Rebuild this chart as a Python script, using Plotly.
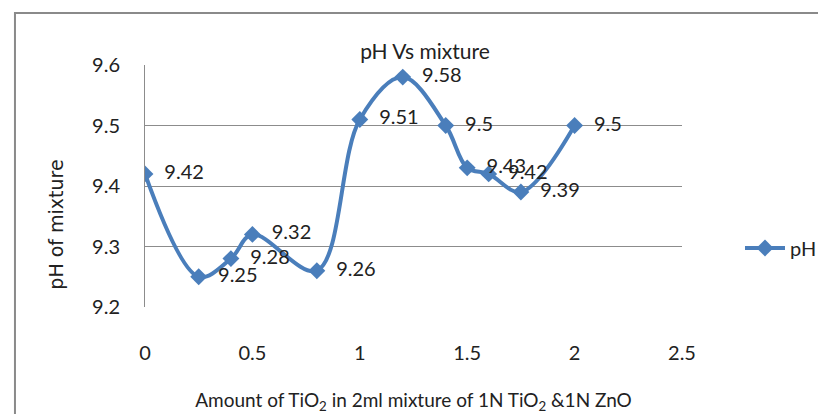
import plotly.graph_objects as go

x_vals = [0, 0.25, 0.4, 0.5, 0.8, 1.0, 1.2, 1.4, 1.5, 1.6, 1.75, 2.0]
ph_vals = [9.42, 9.25, 9.28, 9.32, 9.26, 9.51, 9.58, 9.5, 9.43, 9.42, 9.39, 9.5]
label_text = ["9.42", "9.25", "9.28", "9.32", "9.26", "9.51", "9.58", "9.5", "9.43", "9.42", "9.39", "9.5"]
x_ticks = [0, 0.5, 1, 1.5, 2, 2.5]
x_tick_text = ["0", "0.5", "1", "1.5", "2", "2.5"]
y_ticks = [9.2, 9.3, 9.4, 9.5, 9.6]
y_tick_text = ["9.2", "9.3", "9.4", "9.5", "9.6"]

FONT = "Lato"
BLUE = "#4A7EBB"
GRID = "#8C8C8C"
TXT = "#222222"

fig = go.Figure()
fig.add_trace(go.Scatter(
    x=x_vals, y=ph_vals, name="pH",
    mode="lines+markers+text",
    line=dict(color=BLUE, width=4, shape="spline", smoothing=1),
    marker=dict(symbol="diamond", size=13, color=BLUE),
    text=["  " + t for t in label_text],
    textposition="middle right",
    textfont=dict(family=FONT, size=20, color=TXT),
))

fig.update_layout(
    width=826, height=414,
    margin=dict(l=137, r=148, t=57, b=115),
    paper_bgcolor="white", plot_bgcolor="white",
    font=dict(family=FONT, size=20, color=TXT),
    title=dict(text="pH Vs mixture", x=(425-8)/826, xanchor="center", y=1 - 44/414, yanchor="middle",
               font=dict(family=FONT, size=21, color=TXT)),
    showlegend=True,
    legend=dict(x=1.108, xanchor="left", y=0.244, yanchor="middle",
                font=dict(family=FONT, size=20), itemwidth=40, bgcolor="rgba(0,0,0,0)"),
    xaxis=dict(range=[0, 2.5], tickvals=x_ticks, ticktext=x_tick_text, showgrid=False,
               zeroline=False, showline=False, ticks="", ticklabelstandoff=32,
               title=dict(text="Amount of TiO<sub>2</sub> in 2ml mixture of 1N TiO<sub>2</sub> &1N ZnO",
                          font=dict(family=FONT, size=19), standoff=30)),
    yaxis=dict(range=[9.2, 9.6], tickvals=y_ticks, ticktext=y_tick_text, showgrid=True,
               gridcolor=GRID, gridwidth=1, zeroline=False, showline=True, linecolor=GRID,
               linewidth=1, ticks="", ticklabelstandoff=20),
    annotations=[
        dict(text="pH of mixture", textangle=-90, xref="paper", yref="paper",
             x=(55-145)/541, y=(307-225)/242, xanchor="center", yanchor="middle",
             showarrow=False, font=dict(family="DejaVu Sans", size=19, color=TXT)),
    ],
    shapes=[
        dict(type="rect", xref="paper", yref="paper", x0=(14-145)/541, x1=(840-145)/541,
             y0=-0.6, y1=1 + (65-13)/242, line=dict(color="#8A8A8A", width=2), fillcolor="rgba(0,0,0,0)",
             layer="below"),
    ],
)

fig.write_html("out.html")
